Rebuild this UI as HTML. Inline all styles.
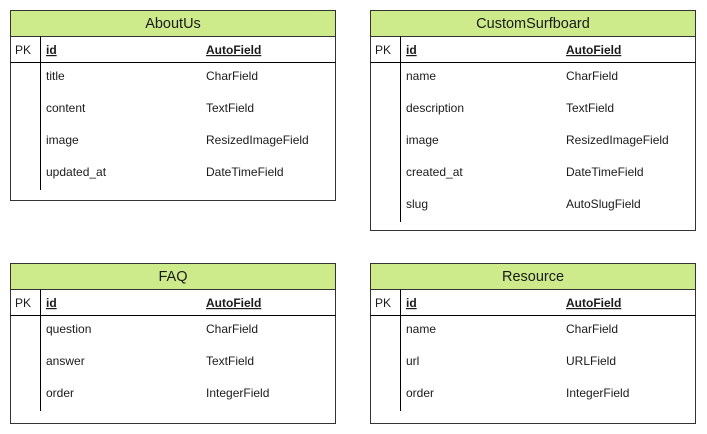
<!DOCTYPE html>
<html><head><meta charset="utf-8"><style>
html,body{margin:0;padding:0;background:#fff;}
svg{display:block;}
text{font-family:"Liberation Sans",Arial,sans-serif;fill:#1a1a1a;}
.h{font-size:14.5px;text-anchor:middle;}
.f{font-size:12px;}
.b{font-weight:bold;text-decoration:underline;}
</style></head><body>
<svg width="707" height="434" viewBox="0 0 707 434" xmlns="http://www.w3.org/2000/svg">
<g stroke="#333" stroke-width="1" fill="none">
<!-- AboutUs -->
<rect x="10.5" y="10.5" width="325" height="190" fill="#fff"/>
<rect x="10.5" y="10.5" width="325" height="26" fill="#cdeb8b"/>
<line x1="10.5" y1="62.5" x2="335.5" y2="62.5" stroke="#000"/>
<line x1="40.5" y1="36.5" x2="40.5" y2="190" stroke="#000"/>
<!-- CustomSurfboard -->
<rect x="370.5" y="10.5" width="325" height="220" fill="#fff"/>
<rect x="370.5" y="10.5" width="325" height="26" fill="#cdeb8b"/>
<line x1="370.5" y1="62.5" x2="695.5" y2="62.5" stroke="#000"/>
<line x1="400.5" y1="36.5" x2="400.5" y2="222" stroke="#000"/>
<!-- FAQ -->
<rect x="10.5" y="263.5" width="325" height="160" fill="#fff"/>
<rect x="10.5" y="263.5" width="325" height="26" fill="#cdeb8b"/>
<line x1="10.5" y1="315.5" x2="335.5" y2="315.5" stroke="#000"/>
<line x1="40.5" y1="289.5" x2="40.5" y2="411" stroke="#000"/>
<!-- Resource -->
<rect x="370.5" y="263.5" width="325" height="160" fill="#fff"/>
<rect x="370.5" y="263.5" width="325" height="26" fill="#cdeb8b"/>
<line x1="370.5" y1="315.5" x2="695.5" y2="315.5" stroke="#000"/>
<line x1="400.5" y1="289.5" x2="400.5" y2="411" stroke="#000"/>
</g>

<text class="h" x="173" y="28">AboutUs</text>
<text class="f" x="15" y="54">PK</text>
<text class="f b" x="46" y="54">id</text>
<text class="f b" x="206" y="54">AutoField</text>
<text class="f" x="46" y="80">title</text><text class="f" x="206" y="80">CharField</text>
<text class="f" x="46" y="112">content</text><text class="f" x="206" y="112">TextField</text>
<text class="f" x="46" y="144">image</text><text class="f" x="206" y="144">ResizedImageField</text>
<text class="f" x="46" y="176">updated_at</text><text class="f" x="206" y="176">DateTimeField</text>

<text class="h" x="533" y="28">CustomSurfboard</text>
<text class="f" x="375" y="54">PK</text>
<text class="f b" x="406" y="54">id</text>
<text class="f b" x="566" y="54">AutoField</text>
<text class="f" x="406" y="80">name</text><text class="f" x="566" y="80">CharField</text>
<text class="f" x="406" y="112">description</text><text class="f" x="566" y="112">TextField</text>
<text class="f" x="406" y="144">image</text><text class="f" x="566" y="144">ResizedImageField</text>
<text class="f" x="406" y="176">created_at</text><text class="f" x="566" y="176">DateTimeField</text>
<text class="f" x="406" y="208">slug</text><text class="f" x="566" y="208">AutoSlugField</text>

<text class="h" x="173" y="281">FAQ</text>
<text class="f" x="15" y="307">PK</text>
<text class="f b" x="46" y="307">id</text>
<text class="f b" x="206" y="307">AutoField</text>
<text class="f" x="46" y="333">question</text><text class="f" x="206" y="333">CharField</text>
<text class="f" x="46" y="365">answer</text><text class="f" x="206" y="365">TextField</text>
<text class="f" x="46" y="397">order</text><text class="f" x="206" y="397">IntegerField</text>

<text class="h" x="533" y="281">Resource</text>
<text class="f" x="375" y="307">PK</text>
<text class="f b" x="406" y="307">id</text>
<text class="f b" x="566" y="307">AutoField</text>
<text class="f" x="406" y="333">name</text><text class="f" x="566" y="333">CharField</text>
<text class="f" x="406" y="365">url</text><text class="f" x="566" y="365">URLField</text>
<text class="f" x="406" y="397">order</text><text class="f" x="566" y="397">IntegerField</text>
</svg>
</body></html>
